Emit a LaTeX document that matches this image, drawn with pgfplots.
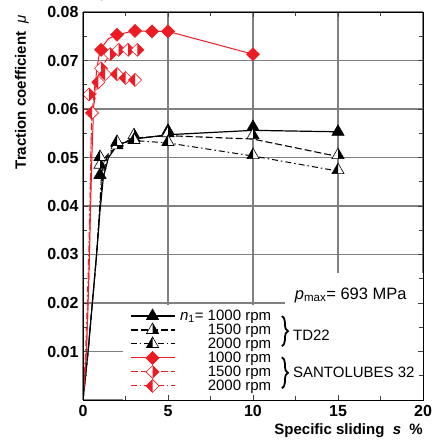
\documentclass[border=0pt]{standalone}
\usepackage{fontspec}
\setmainfont{Liberation Sans}
\usepackage{pgfplots}
\pgfplotsset{compat=1.18}
\usetikzlibrary{decorations.pathreplacing}
\definecolor{cRed}{RGB}{237,28,36}
\definecolor{cGrid}{RGB}{128,128,128}

% half-filled marks: R = right half filled, L = left half filled
\pgfdeclareplotmark{triR}{%
  \pgfpathmoveto{\pgfqpoint{0pt}{\pgfplotmarksize}}%
  \pgfpathlineto{\pgfqpointpolar{-30}{\pgfplotmarksize}}%
  \pgfpathlineto{\pgfqpointpolar{210}{\pgfplotmarksize}}%
  \pgfpathclose\pgfsetfillcolor{white}\pgfusepathqfill
  \pgfpathmoveto{\pgfqpoint{0pt}{\pgfplotmarksize}}%
  \pgfpathlineto{\pgfqpointpolar{-30}{\pgfplotmarksize}}%
  \pgfpathlineto{\pgfqpoint{0pt}{-.5\pgfplotmarksize}}%
  \pgfpathclose\pgfsetfillcolor{black}\pgfusepathqfill
  \pgfpathmoveto{\pgfqpoint{0pt}{\pgfplotmarksize}}%
  \pgfpathlineto{\pgfqpointpolar{-30}{\pgfplotmarksize}}%
  \pgfpathlineto{\pgfqpointpolar{210}{\pgfplotmarksize}}%
  \pgfpathclose\pgfusepathqstroke}
\pgfdeclareplotmark{triL}{%
  \pgfpathmoveto{\pgfqpoint{0pt}{\pgfplotmarksize}}%
  \pgfpathlineto{\pgfqpointpolar{-30}{\pgfplotmarksize}}%
  \pgfpathlineto{\pgfqpointpolar{210}{\pgfplotmarksize}}%
  \pgfpathclose\pgfsetfillcolor{white}\pgfusepathqfill
  \pgfpathmoveto{\pgfqpoint{0pt}{\pgfplotmarksize}}%
  \pgfpathlineto{\pgfqpointpolar{210}{\pgfplotmarksize}}%
  \pgfpathlineto{\pgfqpoint{0pt}{-.5\pgfplotmarksize}}%
  \pgfpathclose\pgfsetfillcolor{black}\pgfusepathqfill
  \pgfpathmoveto{\pgfqpoint{0pt}{\pgfplotmarksize}}%
  \pgfpathlineto{\pgfqpointpolar{-30}{\pgfplotmarksize}}%
  \pgfpathlineto{\pgfqpointpolar{210}{\pgfplotmarksize}}%
  \pgfpathclose\pgfusepathqstroke}
\pgfdeclareplotmark{dia}{%
  \pgfpathmoveto{\pgfqpoint{0pt}{\pgfplotmarksize}}%
  \pgfpathlineto{\pgfqpoint{\pgfplotmarksize}{0pt}}%
  \pgfpathlineto{\pgfqpoint{0pt}{-\pgfplotmarksize}}%
  \pgfpathlineto{\pgfqpoint{-\pgfplotmarksize}{0pt}}%
  \pgfpathclose\pgfsetfillcolor{cRed}\pgfusepathqfillstroke}
\pgfdeclareplotmark{diaR}{%
  \pgfpathmoveto{\pgfqpoint{0pt}{\pgfplotmarksize}}%
  \pgfpathlineto{\pgfqpoint{\pgfplotmarksize}{0pt}}%
  \pgfpathlineto{\pgfqpoint{0pt}{-\pgfplotmarksize}}%
  \pgfpathlineto{\pgfqpoint{-\pgfplotmarksize}{0pt}}%
  \pgfpathclose\pgfsetfillcolor{white}\pgfusepathqfill
  \pgfpathmoveto{\pgfqpoint{0pt}{\pgfplotmarksize}}%
  \pgfpathlineto{\pgfqpoint{\pgfplotmarksize}{0pt}}%
  \pgfpathlineto{\pgfqpoint{0pt}{-\pgfplotmarksize}}%
  \pgfpathclose\pgfsetfillcolor{cRed}\pgfusepathqfill
  \pgfpathmoveto{\pgfqpoint{0pt}{\pgfplotmarksize}}%
  \pgfpathlineto{\pgfqpoint{\pgfplotmarksize}{0pt}}%
  \pgfpathlineto{\pgfqpoint{0pt}{-\pgfplotmarksize}}%
  \pgfpathlineto{\pgfqpoint{-\pgfplotmarksize}{0pt}}%
  \pgfpathclose\pgfusepathqstroke}
\pgfdeclareplotmark{diaL}{%
  \pgfpathmoveto{\pgfqpoint{0pt}{\pgfplotmarksize}}%
  \pgfpathlineto{\pgfqpoint{\pgfplotmarksize}{0pt}}%
  \pgfpathlineto{\pgfqpoint{0pt}{-\pgfplotmarksize}}%
  \pgfpathlineto{\pgfqpoint{-\pgfplotmarksize}{0pt}}%
  \pgfpathclose\pgfsetfillcolor{white}\pgfusepathqfill
  \pgfpathmoveto{\pgfqpoint{0pt}{\pgfplotmarksize}}%
  \pgfpathlineto{\pgfqpoint{-\pgfplotmarksize}{0pt}}%
  \pgfpathlineto{\pgfqpoint{0pt}{-\pgfplotmarksize}}%
  \pgfpathclose\pgfsetfillcolor{cRed}\pgfusepathqfill
  \pgfpathmoveto{\pgfqpoint{0pt}{\pgfplotmarksize}}%
  \pgfpathlineto{\pgfqpoint{\pgfplotmarksize}{0pt}}%
  \pgfpathlineto{\pgfqpoint{0pt}{-\pgfplotmarksize}}%
  \pgfpathlineto{\pgfqpoint{-\pgfplotmarksize}{0pt}}%
  \pgfpathclose\pgfusepathqstroke}

% grid below main, ticks and box above it (so the white patches cut only the grid)
\pgfplotsset{
  layers/gridlow/.define layer set={
    axis background,axis grid,pre main,main,axis ticks,axis lines,axis tick labels,axis descriptions,axis foreground
  }{
    grid style={/pgfplots/on layer=axis grid},
    tick style={/pgfplots/on layer=axis ticks},
    axis line style={/pgfplots/on layer=axis lines},
    label style={/pgfplots/on layer=axis descriptions},
    legend style={/pgfplots/on layer=axis descriptions},
    title style={/pgfplots/on layer=axis descriptions},
    ticklabel style={/pgfplots/on layer=axis tick labels},
    axis background@ style={/pgfplots/on layer=axis background},
  },
}

\tikzset{
  dsh/.style={dash pattern=on 7pt off 3pt},
  dshdot/.style={dash pattern=on 6pt off 3pt on 1.5pt off 3pt},
}

\begin{document}
\begin{tikzpicture}
\begin{axis}[
    set layers=gridlow,
    at={(0,0)}, anchor=south west,
    width=340pt, height=388pt, scale only axis,
    xmin=0, xmax=20, ymin=0, ymax=0.08,
    xtick={0,5,10,15,20},
    xticklabels={0,5,10,15,20},
    minor x tick num=1,
    ytick={0,0.01,0.02,0.03,0.04,0.05,0.06,0.07,0.08},
    yticklabels={,0.01,0.02,0.03,0.04,0.05,0.06,0.07,0.08},
    minor y tick num=1,
    grid=major,
    major grid style={line width=1.1pt, draw=cGrid},
    axis line style={line width=0.8pt, draw=black},
    major tick length=5pt, minor tick length=4pt,
    tick style={draw=black!75, line width=0.6pt},
    tick label style={font=\fontsize{16}{16}\selectfont\bfseries},
    xticklabel style={yshift=-2pt},
    yticklabel style={xshift=-1pt},
    xlabel={Specific sliding\ \ \textit{s}\ \ \%},
    xlabel style={at={(rel axis cs:1,0)}, anchor=north east, yshift=-23pt,
      font=\fontsize{15}{15}\selectfont\bfseries, inner sep=0pt},
    ylabel={Traction coefficient\ \ \textmd{\textit{μ}}},
    ylabel style={at={(rel axis cs:0,1)}, anchor=east, yshift=61pt, xshift=-3pt,
      font=\fontsize{15}{15}\selectfont\bfseries, inner sep=0pt},
    legend cell align=right,
    legend style={at={(axis cs:2.75,0.0190)}, anchor=north west,
      draw=none, fill=none, inner sep=0pt, row sep=-2pt, column sep=3pt,
      font=\fontsize{15}{15}\selectfont},
    legend image code/.code={%
      \draw[mark repeat=2,mark phase=2] plot coordinates {(0pt,0pt)(22pt,0pt)(44pt,0pt)};},
]

% white patches that cut the grid behind the legend and the pressure label
\fill[white] (axis cs:2.35,0) rectangle (axis cs:20,0.0195);
\fill[white] (axis cs:11.9,0.0195) rectangle (axis cs:20,0.0262);

% TD22, lines
\addplot[forget plot, black, line width=1.2pt] coordinates {
  (0,0) (0.3,0.01) (0.55,0.02) (0.8,0.03) (1.0,0.039) (1.2,0.046) (1.5,0.050)
  (2,0.0525) (3,0.0538) (5,0.0547) (10,0.0556) (15,0.0553)};
\addplot[forget plot, black, line width=1.1pt, dsh] coordinates {
  (0,0) (0.3,0.01) (0.55,0.02) (0.8,0.03) (1.0,0.04) (1.15,0.046) (1.4,0.050)
  (2,0.0525) (3,0.0540) (5,0.0545) (10,0.0538) (15,0.0502)};
\addplot[forget plot, black, line width=1.0pt, dshdot] coordinates {
  (0,0) (0.3,0.01) (0.55,0.02) (0.8,0.03) (1.0,0.041) (1.1,0.047) (1.3,0.050)
  (2,0.0528) (3,0.0535) (5,0.0530) (10,0.0503) (15,0.0472)};
% TD22, measured points
\addplot[forget plot, only marks, mark=triangle*, mark size=7pt, mark options={fill=black, draw=black, line width=0.6pt}] coordinates {
  (1,0.0464) (2,0.0530) (3,0.0540) (5,0.0555) (10,0.0563) (15,0.0553)};
\addplot[forget plot, only marks, mark=triR, mark size=7pt, mark options={draw=black, line width=0.6pt}] coordinates {
  (1,0.0485) (2,0.0525) (3,0.0546) (5,0.0550) (10,0.0546) (15,0.0505)};
\addplot[forget plot, only marks, mark=triL, mark size=7pt, mark options={draw=black, line width=0.6pt}] coordinates {
  (1,0.0501) (2,0.0532) (3,0.0536) (5,0.0532) (10,0.0505) (15,0.0474)};

% SANTOLUBES 32, lines
\addplot[forget plot, cRed, line width=1.0pt] coordinates {
  (0,0) (0.2,0.01) (0.3,0.02) (0.38,0.03) (0.45,0.04) (0.52,0.05) (0.62,0.06)
  (0.8,0.068) (1,0.0722) (1.5,0.0745) (2,0.0753) (3,0.0761) (4,0.0760) (5,0.0760) (10,0.0713)};
\addplot[forget plot, cRed, line width=0.9pt, dsh] coordinates {
  (0,0) (0.2,0.01) (0.3,0.02) (0.38,0.03) (0.42,0.04) (0.46,0.05) (0.5,0.058)
  (0.7,0.065) (1.05,0.0684) (1.6,0.0713) (2.1,0.0722) (2.65,0.0722) (3.2,0.0722)};
\addplot[forget plot, cRed, line width=0.9pt, dshdot] coordinates {
  (0,0) (0.15,0.01) (0.25,0.02) (0.33,0.03) (0.4,0.04) (0.45,0.05) (0.53,0.059)
  (0.9,0.0655) (1.3,0.0672) (2,0.0672) (2.5,0.0664) (3.1,0.0660)};
% SANTOLUBES 32, measured points
\addplot[forget plot, only marks, mark=dia, mark size=6.5pt, mark options={draw=cRed, line width=0.6pt}] coordinates {
  (1.06,0.0722) (2,0.0753) (3.06,0.0761) (4.06,0.0760) (5,0.0760) (10,0.0713)};
\addplot[forget plot, only marks, mark=diaR, mark size=6.5pt, mark options={draw=cRed, line width=0.6pt}] coordinates {
  (0.36,0.0630) (1.06,0.0684) (1.6,0.0713) (2.1,0.0722) (2.65,0.0722) (3.2,0.0722)};
\addplot[forget plot, only marks, mark=diaL, mark size=6.5pt, mark options={draw=cRed, line width=0.6pt}] coordinates {
  (0.53,0.0592) (0.9,0.0655) (1.3,0.0672) (2,0.0672) (2.5,0.0664) (3.06,0.0660)};

% legend
\addlegendimage{black, line width=1.2pt, mark=triangle*, mark size=7pt, mark options={solid, fill=black, line width=0.6pt}}
\addlegendentry{\textit{n}\textsubscript{1}= 1000 rpm}
\addlegendimage{black, line width=1.1pt, dsh, mark=triR, mark size=7pt, mark options={solid, line width=0.6pt}}
\addlegendentry{1500 rpm}
\addlegendimage{black, line width=1.0pt, dshdot, mark=triL, mark size=7pt, mark options={solid, line width=0.6pt}}
\addlegendentry{2000 rpm}
\addlegendimage{cRed, line width=1.0pt, mark=dia, mark size=6.5pt, mark options={solid, line width=0.6pt}}
\addlegendentry{1000 rpm}
\addlegendimage{cRed, line width=0.9pt, dsh, mark=diaR, mark size=6.5pt, mark options={solid, line width=0.6pt}}
\addlegendentry{1500 rpm}
\addlegendimage{cRed, line width=0.9pt, dshdot, mark=diaL, mark size=6.5pt, mark options={solid, line width=0.6pt}}
\addlegendentry{2000 rpm}

% braces and group names
\draw[decorate, decoration={brace, amplitude=6pt}, line width=1.8pt]
  (axis cs:11.7,0.0173) -- (axis cs:11.7,0.0111);
\node[anchor=west, font=\fontsize{15}{15}\selectfont, inner sep=0pt] at (axis cs:12.35,0.0134) {TD22};
\draw[decorate, decoration={brace, amplitude=6pt}, line width=1.8pt]
  (axis cs:11.7,0.0088) -- (axis cs:11.7,0.0024);
\node[anchor=west, font=\fontsize{15}{15}\selectfont, inner sep=0pt] at (axis cs:12.35,0.0057) {SANTOLUBES 32};

% load label
\node[anchor=base west, font=\fontsize{16.5}{16.5}\selectfont, inner sep=0pt] at (axis cs:12.45,0.0208)
  {\textit{p}\textsubscript{max}= 693 MPa};

\end{axis}
\pgfresetboundingbox
\path (-83pt,-44pt) rectangle (353pt,400pt);
\end{tikzpicture}
\end{document}
